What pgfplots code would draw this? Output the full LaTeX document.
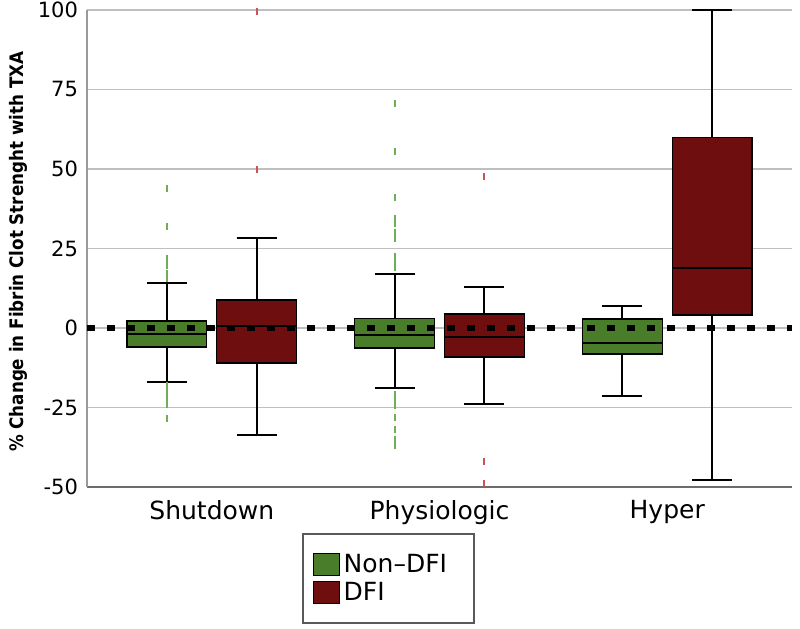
\documentclass[border=0pt]{standalone}
\usepackage{fontspec}
\setmainfont{DejaVu Sans}
\newfontfamily\ylabfont{DejaVu Sans Condensed}[BoldFont={DejaVu Sans Condensed Bold}]
\usepackage{pgfplots}
\pgfplotsset{compat=1.18}
\usepgfplotslibrary{statistics}
\definecolor{nongreen}{RGB}{74,125,42}
\definecolor{dfired}{RGB}{110,14,14}
\definecolor{greenout}{RGB}{110,175,85}
\definecolor{redout}{RGB}{200,85,85}
\begin{document}
\begin{tikzpicture}
\begin{axis}[
  scale only axis, width=352.5pt, height=238.5pt,
  xmin=0.452, xmax=3.548, ymin=-50, ymax=100,
  xtick={1,2,3}, xticklabels={Shutdown,Physiologic,Hyper},
  ytick={-50,-25,0,25,50,75,100},
  axis x line*=bottom, axis y line*=left,
  x axis line style={draw=gray!85!black, line width=0.9pt, -},
  y axis line style={draw=gray!80, line width=0.8pt, -},
  major tick length=0pt,
  ymajorgrids, grid style={draw=gray!50, line width=0.6pt},
  /pgf/number format/assume math mode=true,
  yticklabel style={font=\fontsize{10.5}{12}\selectfont, xshift=-1pt},
  xticklabel style={font=\fontsize{12.5}{14}\selectfont, yshift=-3pt},
  ylabel={\% Change in Fibrin Clot Strenght with TXA},
  ylabel style={font=\ylabfont\bfseries\fontsize{9.3}{11}\selectfont, at={(axis description cs:-0.097,0.493)}, anchor=center},
  clip=false,
  boxplot/draw direction=y,
  boxplot/box extend=0.35,
  boxplot/whisker extend=0.175,
  boxplot/every box/.style={draw=black, line width=0.6pt},
  boxplot/every whisker/.style={draw=black, line width=0.9pt},
  boxplot/every median/.style={draw=black, line width=1.3pt},
  legend style={at={(axis description cs:0.305,-0.0964)}, anchor=north west,
    draw=gray!70!black, line width=0.9pt, font=\fontsize{12.5}{14}\selectfont,
    inner xsep=5pt, inner ysep=8pt, row sep=-0.6pt},
  legend cell align=left,
]
% Shutdown
\addplot[forget plot, fill=nongreen, mark=|, mark size=1.75pt, mark options={draw=greenout, line width=1pt},
  boxplot prepared={draw position=0.803, lower whisker=-17, lower quartile=-6, median=-1.9, upper quartile=2.2, upper whisker=14.1}]
  coordinates {(0,44) (0,32) (0,22) (0,19.5) (0,17) (0,15.5) (0,-18) (0,-20) (0,-22) (0,-24) (0,-28.5)};
\addplot[forget plot, fill=dfired, mark=|, mark size=1.75pt, mark options={draw=redout, line width=1pt},
  boxplot prepared={draw position=1.197, lower whisker=-33.6, lower quartile=-11, median=0.6, upper quartile=8.8, upper whisker=28.3}]
  coordinates {(0,99.5) (0,49.7)};
% Physiologic
\addplot[forget plot, fill=nongreen, mark=|, mark size=1.75pt, mark options={draw=greenout, line width=1pt},
  boxplot prepared={draw position=1.803, lower whisker=-18.9, lower quartile=-6.3, median=-2.2, upper quartile=3.1, upper whisker=17}]
  coordinates {(0,70.5) (0,55.5) (0,41) (0,34.5) (0,33) (0,30) (0,28) (0,22.5) (0,20.5) (0,19) (0,-21) (0,-23) (0,-24.5) (0,-28) (0,-32) (0,-35) (0,-37)};
\addplot[forget plot, fill=dfired, mark=|, mark size=1.75pt, mark options={draw=redout, line width=1pt},
  boxplot prepared={draw position=2.197, lower whisker=-23.9, lower quartile=-9.1, median=-2.8, upper quartile=4.4, upper whisker=12.9}]
  coordinates {(0,47.5) (0,-42) (0,-49)};
% Hyper
\addplot[forget plot, fill=nongreen,
  boxplot prepared={draw position=2.803, lower whisker=-21.4, lower quartile=-8.2, median=-4.7, upper quartile=2.8, upper whisker=6.9}]
  coordinates {};
\addplot[forget plot, fill=dfired,
  boxplot prepared={draw position=3.197, lower whisker=-47.8, lower quartile=4.1, median=18.9, upper quartile=60, upper whisker=100}]
  coordinates {};
% reference line at zero
\addplot[forget plot, black, line width=3.3pt, dash pattern=on 4pt off 6pt] coordinates {(0.452,0) (3.548,0)};
\addlegendimage{legend image code/.code={\draw[fill=nongreen, draw=black, line width=0.4pt] (0pt,-5.5pt) rectangle (13pt,5.5pt);}}
\addlegendentry{Non--DFI\hspace*{6.5pt}}
\addlegendimage{legend image code/.code={\draw[fill=dfired, draw=black, line width=0.4pt] (0pt,-5.5pt) rectangle (13pt,5.5pt);}}
\addlegendentry{DFI}
\coordinate (bl) at (rel axis cs:0,0);
\coordinate (tr) at (rel axis cs:1,1);
\end{axis}
\pgfresetboundingbox
\path ([shift={(-43.5pt,-71pt)}]bl) rectangle ([shift={(4pt,5pt)}]tr);
\end{tikzpicture}
\end{document}
